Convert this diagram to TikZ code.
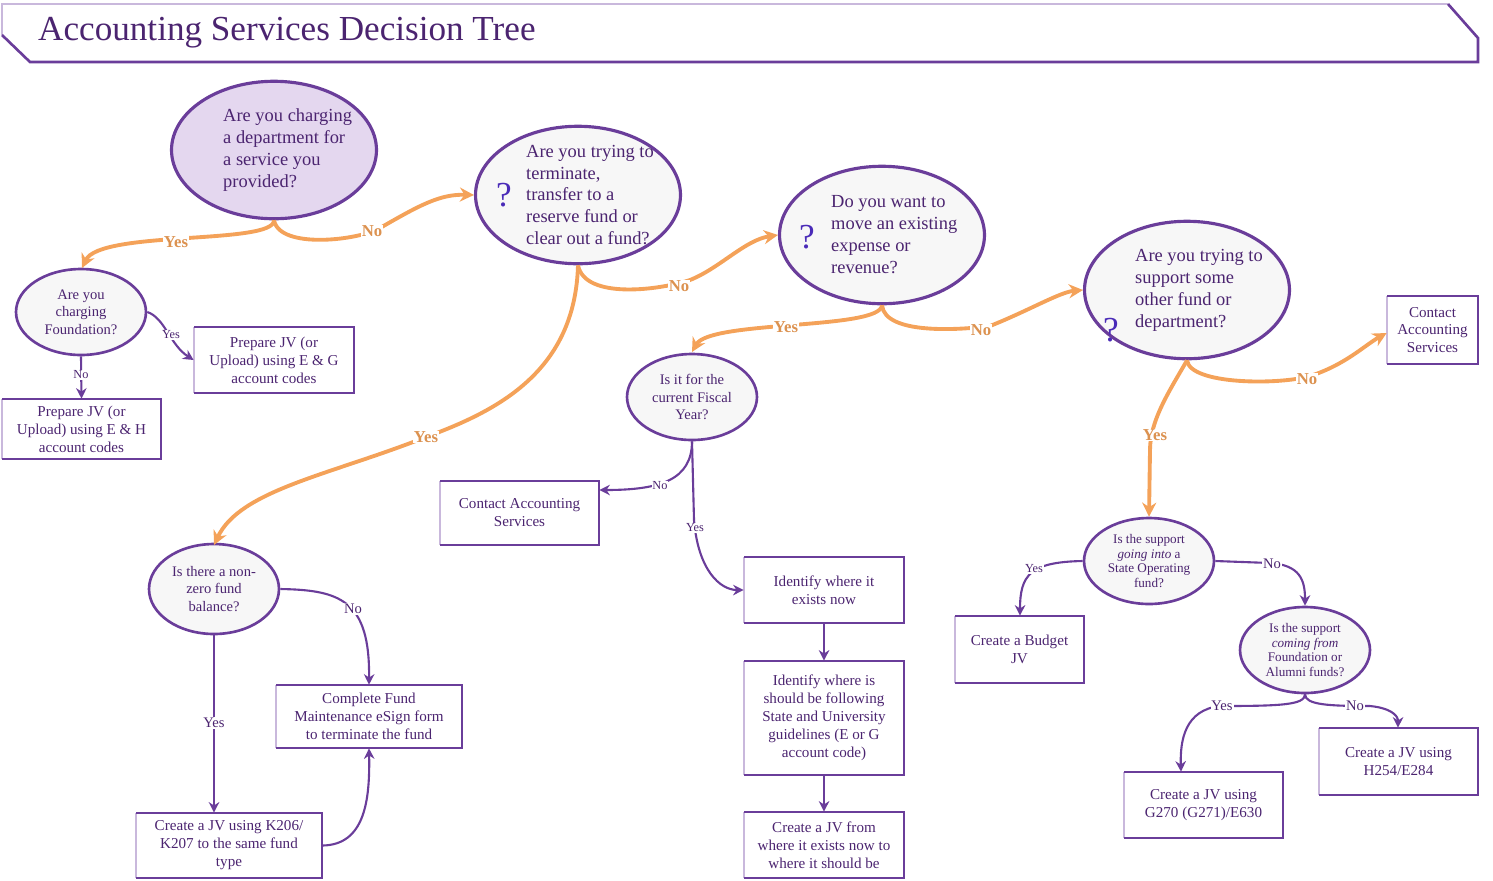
\documentclass[tikz,border=0pt]{standalone}
\usepackage{fontspec}
\setmainfont{Liberation Serif}
\usetikzlibrary{shapes.geometric,arrows.meta,fit}
\definecolor{pur}{HTML}{6A3D9A}
\definecolor{lpur}{HTML}{C9B8DC}
\definecolor{lav}{HTML}{E4D7EF}
\definecolor{org}{HTML}{F4A259}
\definecolor{txt}{HTML}{4B2470}
\tikzset{
 big/.style={ellipse,draw=pur,line width=1.8pt,fill=white!97!black,inner sep=0pt,minimum width=4.1cm,minimum height=2.75cm},
 btx/.style={font=\fontsize{10.5}{12.5}\selectfont,text=txt,align=left,anchor=west},
 sml/.style={ellipse,draw=pur,line width=1.5pt,fill=white!97!black,font=\fontsize{8.3}{10}\selectfont,text=txt,align=center,inner sep=0pt,minimum width=2.6cm,minimum height=1.72cm},
 btxt/.style={font=\fontsize{8.6}{10.2}\selectfont,text=txt,align=center},
 oarr/.style={draw=org,line width=2.2pt,-{Stealth[length=8pt,width=8pt]}},
 parr/.style={draw=pur,line width=1.2pt,-{Stealth[length=6pt,width=6pt]}},
 olab/.style={fill=white,inner sep=0.5pt,text=org!90!black,font=\bfseries\fontsize{9.5}{10}\selectfont},
 plab/.style={fill=white,inner sep=0.5pt,text=txt,font=\fontsize{7}{8}\selectfont},
 qm/.style={text=pur!70!blue,font=\fontsize{20}{20}\selectfont}
}
\newcommand{\bx}[5]{% name, x1,y1,x2,y2
 \draw[lpur,line width=1.5pt] (#2,#3)--(#2,#5);
 \draw[pur,line width=1.5pt] (#2,#3)--(#4,#3)--(#4,#5)--(#2,#5);
 \coordinate (#1-a) at (#2,#3); \coordinate (#1-b) at (#4,#5);
 \node[fit=(#1-a)(#1-b),inner sep=0pt] (#1) {};}
\begin{document}
\begin{tikzpicture}[x=0.02cm,y=-0.02cm]
\useasboundingbox (0,0) rectangle (1493,880);
% title banner
\draw[lpur,line width=1.2pt] (2,35)--(2,4)--(1448,4);
\draw[pur,line width=1.5pt] (1448,4)--(1478,38)--(1478,62)--(30,62)--(2,35);
\node[anchor=west,text=txt,font=\fontsize{20}{24}\selectfont] (title) at (32,33) {Accounting Services Decision Tree};
% ellipses
\node[big,fill=lav] (e1) at (274,150) {};
\node[btx] (x1) at (217,150) {Are you charging\\a department for\\a service you\\provided?};
\node[big] (e2) at (578,195) {};
\node[btx] (x2) at (520,195) {Are you trying to\\terminate,\\transfer to a\\reserve fund or\\clear out a fund?};
\node[qm] (q2) at (504,195) {?};
\node[big] (e3) at (882,235) {};
\node[btx] (x3) at (825,235) {Do you want to\\move an existing\\expense or\\revenue?};
\node[qm] (q3) at (807,237) {?};
\node[big] (e4) at (1187,290) {};
\node[btx] (x4) at (1129,290) {Are you trying to\\support some\\other fund or\\department?};
\node[qm] (q4) at (1111,330) {?};
\node[sml] (e5) at (81,312) {Are you\\charging\\Foundation?};
\node[sml] (e6) at (692,397) {Is it for the\\current Fiscal\\Year?};
\node[sml,minimum height=1.8cm] (e7) at (214,589) {Is there a non-\\zero fund\\balance?};
\node[sml,font=\fontsize{7.5}{8.3}\selectfont] (e8) at (1149,561) {Is the support\\\textit{going into} a\\State Operating\\fund?};
\node[sml,font=\fontsize{7.5}{8.3}\selectfont] (e9) at (1305,650) {Is the support\\\textit{coming from}\\Foundation or\\Alumni funds?};
% boxes
\bx{b1}{194}{327}{354}{393}\node[btxt] (t1) at (b1) {Prepare JV (or\\Upload) using E \& G\\account codes};
\bx{b2}{2}{399}{161}{459}\node[btxt] (t2) at (b2) {Prepare JV (or\\Upload) using E \& H\\account codes};
\bx{b3}{440}{481}{599}{545}\node[btxt] (t3) at (b3) {Contact Accounting\\Services};
\bx{b4}{1387}{296}{1478}{364}\node[btxt] (t4) at (b4) {Contact\\Accounting\\Services};
\bx{b5}{744}{557}{904}{623}\node[btxt] (t5) at (b5) {Identify where it\\exists now};
\bx{b6}{744}{661}{904}{775}\node[btxt] (t6) at (b6) {Identify where is\\should be following\\State and University\\guidelines (E or G\\account code)};
\bx{b7}{744}{812}{904}{878}\node[btxt] (t7) at (b7) {Create a JV from\\where it exists now to\\where it should be};
\bx{b8}{276}{685}{462}{748}\node[btxt] (t8) at (b8) {Complete Fund\\Maintenance eSign form\\to terminate the fund};
\bx{b9}{136}{813}{322}{878}\node[btxt] (t9) at (b9) {Create a JV using K206/\\K207 to the same fund\\type};
\bx{b10}{955}{616}{1084}{683}\node[btxt] (t10) at (b10) {Create a Budget\\JV};
\bx{b11}{1124}{772}{1283}{838}\node[btxt] (t11) at (b11) {Create a JV using\\G270 (G271)/E630};
\bx{b12}{1319}{728}{1478}{795}\node[btxt] (t12) at (b12) {Create a JV using\\H254/E284};
% orange connectors
\draw[oarr] (e1.south) .. controls (274,245) and (100,230) .. (82,268);
\node[olab] (y1) at (176,242) {Yes};
\draw[oarr] (e1.south) .. controls (280,250) and (360,240) .. (380,228) .. controls (420,205) and (440,194) .. (e2.west);
\node[olab] (n1) at (372,231) {No};
\draw[oarr] (e2.south) .. controls (585,300) and (660,290) .. (690,280) .. controls (720,268) and (745,240) .. (e3.west);
\node[olab] (n2) at (679,286) {No};
\draw[oarr] (e2.south) .. controls (575,370) and (500,410) .. (426,437) .. controls (330,475) and (240,490) .. (214,545);
\node[olab] (y2) at (426,437) {Yes};
\draw[oarr] (e3.south) .. controls (880,330) and (710,320) .. (692,352);
\node[olab] (y3) at (786,327) {Yes};
\draw[oarr] (e3.south) .. controls (885,335) and (960,330) .. (990,326) .. controls (1030,310) and (1060,292) .. (e4.west);
\node[olab] (n3) at (981,330) {No};
\draw[oarr] (e4.south) .. controls (1190,385) and (1280,385) .. (1310,376) .. controls (1345,365) and (1365,345) .. (b4.west |- 0,333);
\node[olab] (n4) at (1307,379) {No};
\draw[oarr] (e4.south) .. controls (1170,390) and (1150,420) .. (1150,450) -- (e8.north);
\node[olab] (y4) at (1155,435) {Yes};
% purple connectors
\draw[parr] (e5.east) .. controls (165,318) and (170,345) .. (b1.west |- 0,360);
\node[plab] (ly5) at (171,335) {Yes};
\draw[parr] (e5.south) -- (b2.north);
\node[plab] (ln5) at (81,375) {No};
\draw[parr] (e6.south) .. controls (692,480) and (660,490) .. (b3.east |- 0,490);
\node[plab] (ln6) at (660,486) {No};
\draw[parr] (e6.south) -- (694,520) .. controls (698,570) and (720,590) .. (b5.west |- 0,590);
\node[plab] (ly6) at (695,528) {Yes};
\draw[parr] (b5.south) -- (b6.north);
\draw[parr] (b6.south) -- (b7.north);
\draw[parr] (e7.east) .. controls (340,590) and (370,600) .. (b8.north);
\node[plab,font=\fontsize{8.3}{9}\selectfont] (ln7) at (353,609) {No};
\draw[parr] (e7.south) -- (b9.north -| e7.south);
\node[plab,font=\fontsize{8.3}{9}\selectfont] (ly7) at (214,723) {Yes};
\draw[parr] (b9.east) .. controls (365,845) and (370,800) .. (b8.south);
\draw[parr] (e8.west) .. controls (1030,562) and (1020,575) .. (b10.north -| 1020,0);
\node[plab] (ly8) at (1034,569) {Yes};
\draw[parr] (e8.east) -- (1270,563) .. controls (1300,565) and (1305,580) .. (e9.north);
\node[plab,font=\fontsize{8.3}{9}\selectfont] (ln8) at (1272,564) {No};
\draw[parr] (e9.south) .. controls (1305,705) and (1280,706) .. (1220,706) .. controls (1185,710) and (1180,740) .. (b11.north -| 1181,0);
\node[plab,font=\fontsize{8.3}{9}\selectfont] (ly9) at (1222,706) {Yes};
\draw[parr] (e9.south) .. controls (1305,705) and (1330,706) .. (1370,706) .. controls (1390,708) and (1398,715) .. (b12.north -| 1398,0);
\node[plab,font=\fontsize{8.3}{9}\selectfont] (ln9) at (1355,706) {No};
\end{tikzpicture}
\end{document}
